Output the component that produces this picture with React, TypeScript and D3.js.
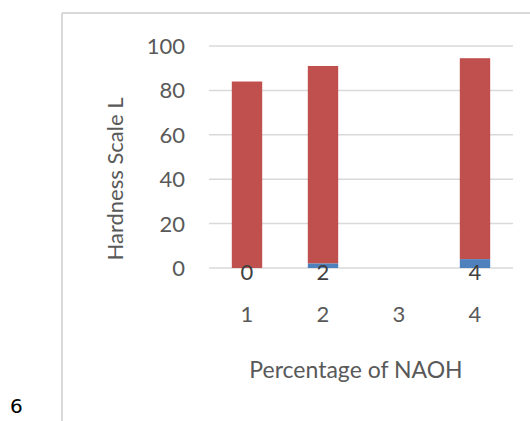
import React from 'react'
import * as d3 from 'd3'

const categories = ['1', '2', '3', '4']
const baseValues: (number | null)[] = [0, 2, null, 4]
const topValues: (number | null)[] = [84, 89, null, 90.5]
const yTicks = [0, 20, 40, 60, 80, 100]

const width = 530
const height = 421
const font = 'Lato, "Open Sans", sans-serif'
const textColor = '#595959'

const App: React.FunctionComponent = () => {
  const margin = { top: 46, left: 209, bottom: 153, right: 17 }

  const xScale = d3
    .scaleBand<string>()
    .domain(categories)
    .range([margin.left, width - margin.right])
    .paddingInner(0.6)
    .paddingOuter(0.3)

  const yScale = d3
    .scaleLinear()
    .domain([0, 100])
    .range([height - margin.bottom, margin.top])

  const y0 = yScale(0)
  const bw = xScale.bandwidth()

  return (
    <svg
      width={width}
      height={height}
      style={{ position: 'absolute', left: 0, top: 0, background: '#fff' }}
    >
      <rect x={0} y={0} width={width} height={height} fill="#fff" />
      {/* chart frame */}
      <line x1={62} x2={width} y1={13} y2={13} stroke="#d9d9d9" strokeWidth={2} />
      <line x1={62} x2={62} y1={13} y2={height} stroke="#d9d9d9" strokeWidth={2} />

      {yTicks.map(t => (
        <g key={t}>
          <line
            x1={margin.left}
            x2={width - margin.right}
            y1={yScale(t)}
            y2={yScale(t)}
            stroke="#d9d9d9"
            strokeWidth={1.5}
          />
          <text
            x={185}
            y={yScale(t)}
            dy="0.36em"
            textAnchor="end"
            fontFamily={font}
            fontSize={22}
            fill={textColor}
          >
            {t}
          </text>
        </g>
      ))}

      {categories.map((c, i) => {
        const b = baseValues[i]
        const t = topValues[i]
        const x = xScale(c) || 0
        return (
          <g key={c}>
            {b !== null && t !== null && (
              <>
                <rect
                  x={x}
                  y={yScale(b + t)}
                  width={bw}
                  height={yScale(b) - yScale(b + t)}
                  fill="#c0504d"
                />
                <rect
                  x={x}
                  y={yScale(b)}
                  width={bw}
                  height={y0 - yScale(b)}
                  fill="#4f81bd"
                />
                <text
                  x={x + bw / 2}
                  y={y0 + 4}
                  dy="0.36em"
                  textAnchor="middle"
                  fontFamily={font}
                  fontSize={22}
                  fill="#404040"
                >
                  {b}
                </text>
              </>
            )}
            <text
              x={x + bw / 2}
              y={314}
              dy="0.36em"
              textAnchor="middle"
              fontFamily={font}
              fontSize={22}
              fill={textColor}
            >
              {c}
            </text>
          </g>
        )
      })}

      <text
        transform="translate(123, 179) rotate(-90)"
        textAnchor="middle"
        fontFamily={font}
        fontSize={22}
        fill={textColor}
      >
        Hardness Scale L
      </text>
      <text
        x={356}
        y={370}
        dy="0.36em"
        textAnchor="middle"
        fontFamily={font}
        fontSize={23}
        fill={textColor}
      >
        Percentage of NAOH
      </text>

      <text x={10} y={413} fontFamily="'DejaVu Sans', sans-serif" fontSize={20} fill="#000">
        6
      </text>
    </svg>
  )
}

export default App
